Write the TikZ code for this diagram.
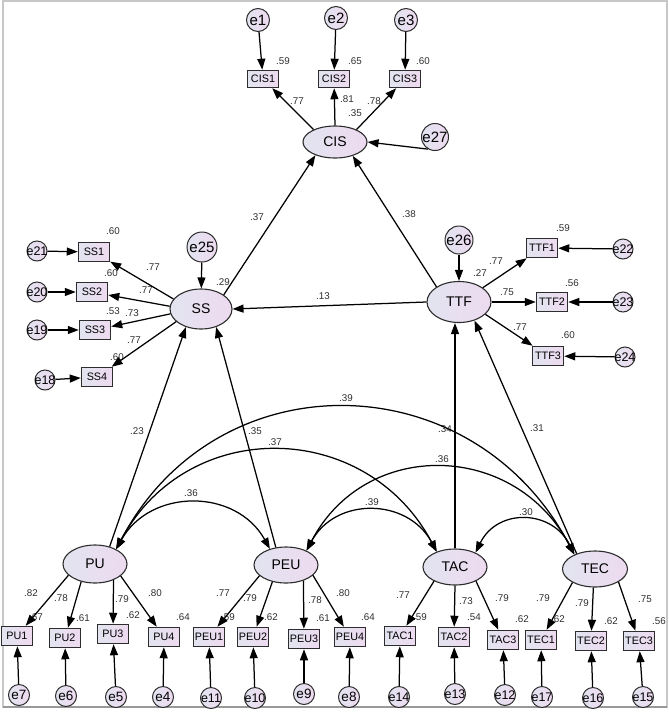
\documentclass[tikz,border=0pt]{standalone}
\usepackage{fontspec}
\setmainfont{Liberation Sans}
\usetikzlibrary{shapes.geometric,arrows.meta}
\definecolor{fillL}{RGB}{226,228,240}
\definecolor{fillR}{RGB}{238,218,240}
\definecolor{ink}{RGB}{45,45,45}
\newcommand{\zw}[1]{\makebox[0pt]{#1}}

\begin{document}
\begin{tikzpicture}[x=1pt,y=-1pt,
  lat/.style={ellipse, draw=ink, line width=1.1pt, left color=fillL, right color=fillR,
    minimum width=64pt, minimum height=38pt, inner sep=0pt, font=\fontsize{14}{14}\selectfont},
  obs/.style={rectangle, draw=ink, line width=1.5pt, left color=fillL, right color=fillR,
    minimum width=31pt, minimum height=19pt, inner sep=0pt, font=\fontsize{10.8}{10.8}\selectfont},
  err/.style={circle, draw=ink, line width=1pt, left color=fillL, right color=fillR,
    minimum size=21pt, inner sep=0pt, font=\fontsize{12.5}{12.5}\selectfont},
  err1/.style={err, font=\fontsize{13.5}{13.5}\selectfont},
  bigerr/.style={err, font=\fontsize{15}{15}\selectfont},
  reg/.style={line width=1.25pt, draw=black, -{Triangle[length=11pt,width=8pt]}},
  cov/.style={line width=1.25pt, draw=black, {Triangle[length=11pt,width=8pt]}-{Triangle[length=11pt,width=8pt]}},
  est/.style={font=\fontsize{9.8}{9.8}\selectfont, text=ink, inner sep=0pt}
]
\useasboundingbox (0,0) rectangle (669,713);
\draw[black!22, line width=1.2pt] (3,1) rectangle (667,707);
\draw[black!40, line width=1.2pt] (3,707) -- (667,707);

% latent variables
\node[lat, minimum height=32pt] (CIS) at (335,142) {CIS};
\node[lat, minimum width=62pt, minimum height=40pt] (SS) at (201,309) {SS};
\node[lat, minimum height=41pt] (TTF) at (459,302) {TTF};
\node[lat] (PU) at (95,564) {PU};
\node[lat, minimum height=36pt] (PEU) at (286,565) {PEU};
\node[lat, minimum height=36pt] (TAC) at (455,567) {TAC};
\node[lat, minimum height=36pt, minimum width=65pt] (TEC) at (595,569) {TEC};

% indicators
\node[obs, minimum height=17pt] (CIS1) at (263,79) {CIS1};
\node[obs, minimum height=17pt] (CIS2) at (334,79) {CIS2};
\node[obs, minimum height=17pt] (CIS3) at (405,79) {CIS3};
\node[obs] (SS1) at (94,252) {SS1};
\node[obs] (SS2) at (92,292) {SS2};
\node[obs] (SS3) at (95,330) {SS3};
\node[obs] (SS4) at (97,377) {SS4};
\node[obs] (TTF1) at (542,248) {TTF1};
\node[obs] (TTF2) at (552,302) {TTF2};
\node[obs] (TTF3) at (548,356) {TTF3};
\node[obs] (PU1) at (17,636) {PU1};
\node[obs] (PU2) at (65,638) {PU2};
\node[obs] (PU3) at (113,634) {PU3};
\node[obs] (PU4) at (164,637) {PU4};
\node[obs] (PEU1) at (209,637) {PEU1};
\node[obs] (PEU2) at (253,637) {PEU2};
\node[obs] (PEU3) at (304,639) {PEU3};
\node[obs] (PEU4) at (350,637) {PEU4};
\node[obs] (TAC1) at (400,636) {TAC1};
\node[obs] (TAC2) at (454,637) {TAC2};
\node[obs] (TAC3) at (503,640) {TAC3};
\node[obs] (TEC1) at (541,640) {TEC1};
\node[obs] (TEC2) at (591,641) {TEC2};
\node[obs] (TEC3) at (639,641) {TEC3};

% error terms
\node[bigerr, minimum size=23pt] (e1) at (258,20) {\zw{e1}};
\node[bigerr, minimum size=23pt] (e2) at (336,18) {\zw{e2}};
\node[bigerr, minimum size=23pt] (e3) at (406,20) {\zw{e3}};
\node[bigerr, minimum size=27pt] (e27) at (435,137) {\zw{e27}};
\node[bigerr, minimum size=30pt] (e25) at (202,247) {\zw{e25}};
\node[bigerr, minimum size=28pt] (e26) at (459,240) {\zw{e26}};
\node[err, minimum size=20pt] (e21) at (37,251) {\zw{e21}};
\node[err, minimum size=20pt] (e20) at (37,292) {\zw{e20}};
\node[err, minimum size=20pt] (e19) at (37,330) {\zw{e19}};
\node[err, minimum size=20pt] (e18) at (45,380) {\zw{e18}};
\node[err, minimum size=20pt] (e22) at (623,249) {\zw{e22}};
\node[err, minimum size=20pt] (e23) at (623,302) {\zw{e23}};
\node[err, minimum size=20pt] (e24) at (625,357) {\zw{e24}};
\node[err1] (e7) at (19,695) {\zw{e7}};
\node[err1] (e6) at (66,696) {\zw{e6}};
\node[err1] (e5) at (116,697) {\zw{e5}};
\node[err1] (e4) at (163,697) {\zw{e4}};
\node[err] (e11) at (211,698) {\zw{e11}};
\node[err] (e10) at (255,698) {\zw{e10}};
\node[err1] (e9) at (304,694) {\zw{e9}};
\node[err1] (e8) at (349,697) {\zw{e8}};
\node[err] (e14) at (399,697) {\zw{e14}};
\node[err] (e13) at (455,694) {\zw{e13}};
\node[err] (e12) at (505,695) {\zw{e12}};
\node[err] (e17) at (542,697) {\zw{e17}};
\node[err] (e16) at (593,698) {\zw{e16}};
\node[err] (e15) at (643,697) {\zw{e15}};

% estimates
\foreach \t/\x/\y [count=\i] in {
  .59/283/61, .65/355/61, .60/423/61, .77/297/101, .81/347/99, .35/355/113, .78/374/101,
  .60/113/231, .77/153/267, .60/111/273, .77/146/290, .53/113/311, .73/132/313, .77/134/340, .60/117/357, .29/223/282,
  .59/563/228, .77/496/261, .27/480/273, .56/572/283, .75/507/292, .77/520/327, .60/568/335,
  .37/257/217, .38/409/214, .13/323/296, .23/137/431, .35/255/431, .34/445/429, .31/537/428,
  .36/191/493, .37/275/442, .39/346/398, .39/372/502, .36/442/459, .30/526/512,
  .82/31/593, .67/36/617, .78/61/598, .61/83/618, .79/122/599, .62/133/615, .80/155/593, .64/183/617,
  .77/223/593, .59/228/617, .79/250/598, .62/271/617, .78/315/600, .61/323/618, .80/343/593, .64/368/617,
  .77/403/595, .59/420/617, .73/466/601, .54/474/617, .79/502/598, .62/522/619,
  .79/543/598, .62/558/619, .79/582/603, .62/611/621, .75/645/599, .56/659/621}
  \node[est] (w\i) at (\x,\y) {\t};

% CIS block
\draw[reg] (e1) -- (CIS1);
\draw[reg] (e2) -- (CIS2);
\draw[reg] (e3) -- (CIS3);
\draw[reg] (CIS.150) -- (CIS1);
\draw[reg] (CIS.north) -- (CIS2);
\draw[reg] (CIS.30) -- (CIS3);
\draw[reg] (e27.240) -- (CIS.east);

% SS block
\draw[reg] (e25) -- (SS);
\draw[reg] (SS.160) -- (SS1);
\draw[reg] (SS.175) -- (SS2);
\draw[reg] (SS.189) -- (SS3);
\draw[reg] (SS.207) -- (SS4);
\draw[reg] (e21) -- (SS1);
\draw[reg] (e20) -- (SS2);
\draw[reg] (e19) -- (SS3);
\draw[reg] (e18) -- (SS4);

% TTF block
\draw[reg] (e26) -- (TTF);
\draw[reg] (TTF.31) -- (TTF1);
\draw[reg] (TTF.east) -- (TTF2);
\draw[reg] (TTF.-25) -- (TTF3);
\draw[reg] (e22) -- (TTF1);
\draw[reg] (e23) -- (TTF2);
\draw[reg] (e24) -- (TTF3);

% structural paths
\draw[reg] (SS.32) -- (CIS.214);
\draw[reg] (TTF.146) -- (CIS.322);
\draw[reg] (TTF.west) -- (SS.east);
\draw[reg] (PU.50) -- (SS.230);
\draw[reg] (PEU.120) -- (SS.310);
\draw[reg] (TAC.north) -- (TAC.north |- TTF.south);
\draw[reg] (TEC.140) -- (TTF.310);

% covariances
\draw[cov] (PU.35) .. controls +(34,-61) and +(-34,-61) .. (PEU.135);
\draw[cov] (PU.35) .. controls +(71,-133) and +(-71,-133) .. (TAC.140);
\draw[cov] (PU.35) .. controls +(101,-192) and +(-101,-192) .. (TEC.145);
\draw[cov] (PEU.35) .. controls +(29,-54) and +(-29,-54) .. (TAC.140);
\draw[cov] (PEU.35) .. controls +(59,-113) and +(-59,-113) .. (TEC.145);
\draw[cov] (TAC.35) .. controls +(22,-45) and +(-22,-45) .. (TEC.145);

% measurement paths, lower row
\draw[reg] (PU.203) -- (PU1);
\draw[reg] (PU.232) -- (PU2);
\draw[reg] (PU.319) -- (PU3);
\draw[reg] (PU.335) -- (PU4);
\draw[reg] (PEU.202) -- (PEU1);
\draw[reg] (PEU.231) -- (PEU2);
\draw[reg] (PEU.318) -- (PEU3);
\draw[reg] (PEU.339) -- (PEU4);
\draw[reg] (TAC.214) -- (TAC1);
\draw[reg] (TAC.south) -- (TAC2);
\draw[reg] (TAC.326) -- (TAC3);
\draw[reg] (TEC.211) -- (TEC1);
\draw[reg] (TEC.265) -- (TEC2);
\draw[reg] (TEC.331) -- (TEC3);

\draw[reg] (e7) -- (PU1);
\draw[reg] (e6) -- (PU2);
\draw[reg] (e5) -- (PU3);
\draw[reg] (e4) -- (PU4);
\draw[reg] (e11) -- (PEU1);
\draw[reg] (e10) -- (PEU2);
\draw[reg] (e9) -- (PEU3);
\draw[reg] (e8) -- (PEU4);
\draw[reg] (e14) -- (TAC1);
\draw[reg] (e13) -- (TAC2);
\draw[reg] (e12) -- (TAC3);
\draw[reg] (e17) -- (TEC1);
\draw[reg] (e16) -- (TEC2);
\draw[reg] (e15) -- (TEC3);
\end{tikzpicture}
\end{document}
